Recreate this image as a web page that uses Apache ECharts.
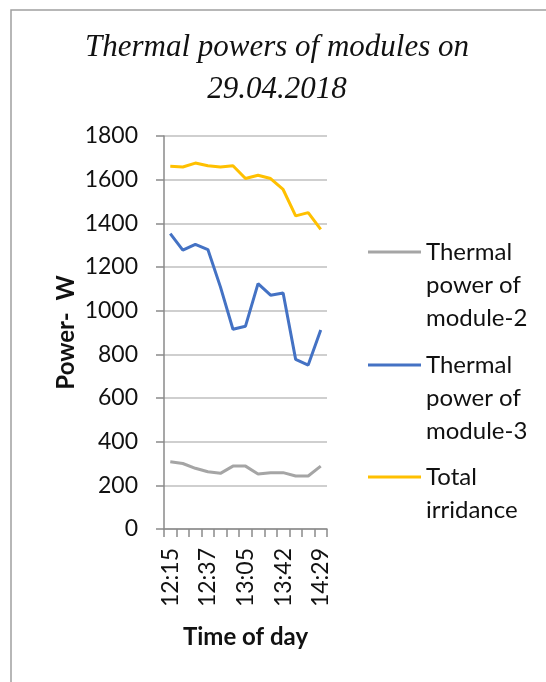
<!DOCTYPE html>
<html>
<head>
<meta charset="utf-8">
<script src="https://cdn.jsdelivr.net/npm/echarts@6/dist/echarts.min.js"></script>
<style>
  html, body { margin: 0; padding: 0; background: #fff; }
  #chart { width: 546px; height: 682px; }
</style>
</head>
<body>
<div id="chart"></div>
<script>
// time stamps (only every third one is labelled on the axis)
const times = ['12:15', '12:22', '12:30', '12:37', '12:45', '12:55', '13:05',
  '13:17', '13:30', '13:42', '13:58', '14:13', '14:29']
const module2 = [308, 300, 278, 262, 255, 288, 288, 252, 258, 258, 243, 243, 288]
const module3 = [1353, 1277, 1304, 1280, 1109, 915, 929, 1124, 1071, 1081, 777, 751, 911]
const irradiance = [1661, 1658, 1676, 1664, 1658, 1664, 1605, 1620, 1605, 1555, 1434, 1449, 1372]

const names = ['Thermal power of module-2', 'Thermal power of module-3', 'Total irridance']
const legendLines = {
  'Thermal power of module-2': ['Thermal', 'power of', 'module-2'],
  'Thermal power of module-3': ['Thermal', 'power of', 'module-3'],
  'Total irridance': ['Total', 'irridance']
}
const colors = ['#a5a5a5', '#4472c4', '#ffc000']

const font = 'Lato, "Open Sans", sans-serif'
const axisGray = '#8a8a8a'
const LH = 33

// legend text is centred on its icon, so pad with blank lines in front
// to bring the first line level with the icon
function legendFor(name, iconY) {
  const lines = legendLines[name]
  const pad = lines.length - 1
  const total = lines.length + pad
  return {
    show: true,
    data: [{ name: name, icon: 'rect' }],
    orient: 'vertical',
    left: 368,
    top: iconY - total * LH / 2,
    padding: 0,
    itemWidth: 53,
    itemHeight: 3,
    selectedMode: false,
    formatter: (n) => '\n'.repeat(pad) + legendLines[n].join('\n'),
    textStyle: {
      fontFamily: font,
      fontSize: 24,
      color: '#111',
      lineHeight: LH
    }
  }
}

const chart = echarts.init(document.getElementById('chart'))

const option = {
  backgroundColor: '#fff',
  animation: false,
  title: {
    text: 'Thermal powers of modules on\n29.04.2018',
    left: 272,
    textAlign: 'center',
    top: 22,
    textStyle: {
      fontFamily: '"Liberation Serif", serif',
      fontStyle: 'italic',
      fontWeight: 'normal',
      fontSize: 31,
      lineHeight: 42,
      color: '#111'
    }
  },
  graphic: [{
    type: 'rect',
    shape: { x: 11, y: 10, width: 700, height: 800 },
    style: { fill: 'none', stroke: '#a0a0a0', lineWidth: 1.5 },
    silent: true
  }],
  legend: [
    legendFor(names[0], 252),
    legendFor(names[1], 365),
    legendFor(names[2], 477)
  ],
  grid: { left: 164, right: 219, top: 136, bottom: 153 },
  xAxis: {
    type: 'category',
    data: times,
    boundaryGap: true,
    name: 'Time of day',
    nameLocation: 'middle',
    nameGap: 96,
    nameTextStyle: { fontFamily: font, fontWeight: 'bold', fontSize: 24, color: '#111' },
    axisLine: { lineStyle: { color: axisGray, width: 1.5 } },
    axisTick: { show: true, interval: 0, length: 8, lineStyle: { color: axisGray, width: 1.5 } },
    axisLabel: {
      interval: 2,
      rotate: 90,
      margin: 19,
      fontFamily: font,
      fontSize: 23,
      color: '#111'
    },
    splitLine: { show: false }
  },
  yAxis: {
    type: 'value',
    min: 0,
    max: 1800,
    interval: 200,
    name: 'Power-  W',
    nameLocation: 'middle',
    nameGap: 86,
    nameTextStyle: { fontFamily: font, fontWeight: 'bold', fontSize: 24, color: '#111' },
    axisLine: { show: true, lineStyle: { color: axisGray, width: 1.5 } },
    axisTick: { show: true, length: 8, lineStyle: { color: axisGray, width: 1.5 } },
    axisLabel: {
      margin: 26, fontFamily: font, fontSize: 23, color: '#111',
      formatter: (v) => String(v)
    },
    splitLine: { lineStyle: { color: '#bfbfbf', width: 1.5 } }
  },
  series: [
    {
      name: names[0], type: 'line', data: module2, symbol: 'none',
      lineStyle: { color: colors[0], width: 3 }, itemStyle: { color: colors[0] }
    },
    {
      name: names[1], type: 'line', data: module3, symbol: 'none',
      lineStyle: { color: colors[1], width: 3 }, itemStyle: { color: colors[1] }
    },
    {
      name: names[2], type: 'line', data: irradiance, symbol: 'none',
      lineStyle: { color: colors[2], width: 3 }, itemStyle: { color: colors[2] }
    }
  ]
}

chart.setOption(option)
</script>
</body>
</html>
